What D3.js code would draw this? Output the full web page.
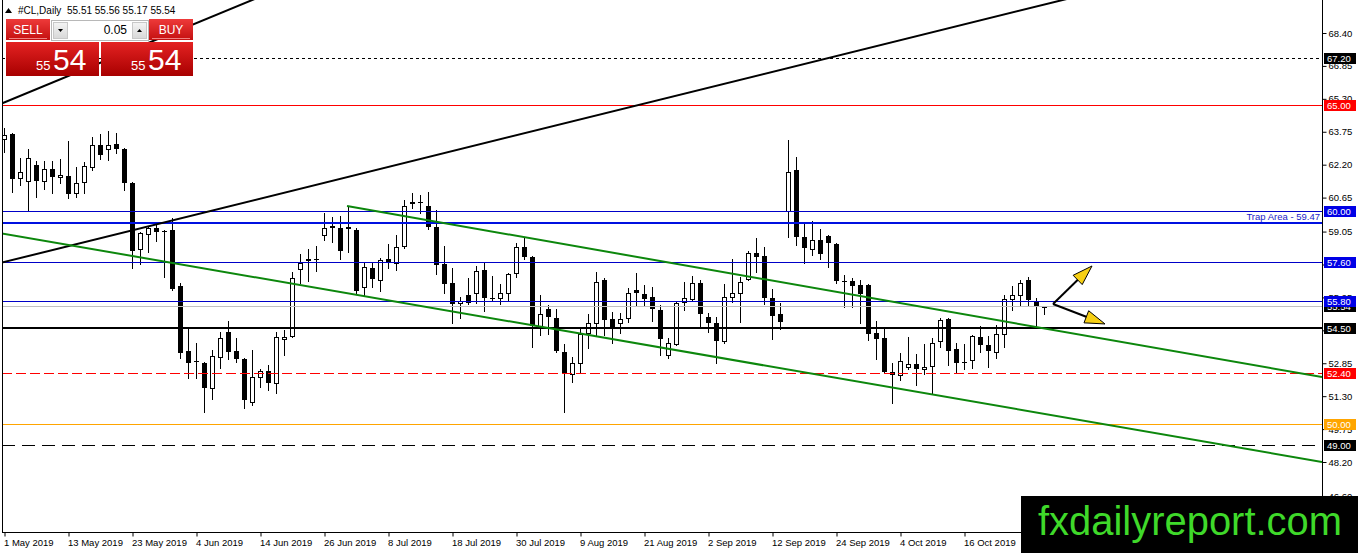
<!DOCTYPE html>
<html>
<head>
<meta charset="utf-8">
<script src="https://cdn.jsdelivr.net/npm/d3@7/dist/d3.min.js"></script>
<style>
  body { margin: 0; background: #fff; }
  svg { display: block; font-family: "Liberation Sans", Arial, sans-serif; }
</style>
</head>
<body>
<svg id="chart" width="1362" height="553"></svg>
<script>
// daily bars, 1 May 2019 .. 30 Oct 2019 (weekdays)
const opens = [63.40,63.64,61.57,61.43,62.19,61.43,62.00,61.62,61.67,60.87,
  61.38,62.09,63.13,62.94,63.17,62.94,61.34,58.23,58.94,59.22,
  59.10,59.13,56.49,53.43,52.95,52.86,51.69,53.15,54.32,53.43,
  53.05,51.03,52.20,52.49,51.92,54.00,54.13,57.29,57.72,57.78,
  58.89,59.25,59.22,59.27,59.13,56.44,57.34,56.77,57.76,57.57,
  58.37,60.38,60.42,60.26,59.27,57.52,56.63,55.70,56.06,56.16,
  57.24,55.90,55.92,56.16,57.10,58.32,57.85,54.56,55.41,54.98,
  53.38,52.35,52.86,54.28,54.75,56.77,54.93,54.75,54.98,56.30,
  56.11,55.97,55.36,53.24,53.76,55.74,55.88,56.63,55.03,54.75,
  53.90,55.97,56.16,56.82,58.04,57.90,55.92,55.17,60.02,61.95,
  58.80,58.23,58.65,58.84,58.47,56.70,56.72,56.54,56.54,54.28,
  54.04,52.44,52.30,52.67,52.82,52.58,52.72,53.90,54.93,53.52,
  52.90,53.00,54.09,53.71,53.38,54.23,55.88,56.06,56.77,55.78,
  55.51];
const highs = [63.95,63.70,62.50,62.94,62.37,62.37,62.37,62.47,63.32,62.09,
  62.33,63.50,63.64,63.79,63.69,62.99,61.38,59.03,59.31,59.50,
  59.13,59.69,56.63,54.56,53.80,52.90,53.48,54.32,54.84,54.04,
  53.10,53.48,52.58,52.77,54.32,54.42,57.15,58.00,58.23,58.37,
  59.93,59.74,59.78,60.21,59.20,57.57,57.57,57.81,58.47,58.89,
  60.54,60.87,60.77,60.91,60.07,58.37,57.34,55.97,56.87,57.43,
  57.57,56.96,56.58,57.10,58.51,58.75,57.90,56.06,55.60,55.41,
  53.76,53.15,54.46,55.17,57.15,56.87,55.27,55.22,56.39,57.10,
  56.53,56.44,55.60,54.04,55.74,56.68,56.96,56.77,55.22,55.03,
  56.58,57.76,56.91,58.14,58.75,58.32,56.35,55.69,63.36,62.56,
  59.41,59.55,59.17,58.90,58.51,57.01,56.87,56.77,56.60,54.84,
  54.46,52.86,53.33,54.09,53.29,53.76,54.04,54.98,54.98,53.80,
  53.76,54.18,54.60,54.13,54.65,56.06,56.49,56.77,56.91,55.92,
  55.56];
const lows = [62.80,60.91,61.24,60.07,60.68,61.06,60.87,61.34,60.63,60.68,
  60.87,61.95,62.47,62.42,62.75,61.01,57.34,57.52,58.09,58.61,
  56.91,56.30,53.10,52.16,52.16,50.56,51.17,52.63,53.05,52.91,
  50.74,50.89,51.73,51.59,51.45,53.24,54.10,56.63,56.72,57.20,
  58.65,58.56,57.76,58.09,56.16,56.06,56.44,56.26,57.34,57.24,
  58.30,60.16,59.93,59.17,57.05,56.16,54.75,54.98,55.64,55.69,
  55.31,55.83,55.64,55.83,56.91,57.76,53.62,54.18,54.23,53.38,
  50.56,51.97,52.39,53.57,54.18,54.18,53.80,54.28,54.80,55.55,
  55.55,54.84,53.24,53.10,53.71,55.36,55.78,54.56,54.32,52.86,
  53.80,55.74,54.80,56.77,57.15,55.64,53.99,54.46,58.80,58.42,
  57.57,57.95,57.76,57.38,56.63,55.50,55.50,54.75,53.95,53.05,
  52.39,50.98,52.06,52.58,51.83,52.35,51.40,53.62,52.77,52.39,
  52.58,52.63,53.38,52.67,53.10,53.62,55.36,55.55,55.55,54.56,
  55.17];
const closes = [63.62,61.53,61.86,62.51,61.43,62.00,61.62,61.71,60.82,61.34,
  62.14,63.13,62.66,63.13,62.94,61.34,58.14,58.98,59.22,59.03,
  59.05,56.35,53.33,52.86,52.91,51.69,53.19,54.04,53.38,53.05,
  51.12,52.20,52.49,51.92,54.09,54.09,56.86,57.57,57.78,57.76,
  59.22,59.29,58.14,59.17,56.26,57.38,56.82,57.71,57.57,58.32,
  60.26,60.42,60.38,59.27,57.48,56.58,55.64,55.76,55.69,57.20,
  55.92,55.94,56.16,57.05,58.32,57.85,54.61,55.17,55.03,53.43,
  52.35,52.86,54.23,54.75,56.68,54.89,54.56,54.93,56.16,56.16,
  55.88,55.41,53.99,53.80,55.69,55.92,56.63,55.17,54.75,53.90,
  55.97,56.16,56.68,58.04,57.85,55.92,55.08,54.79,61.86,58.80,
  58.28,58.65,58.00,58.51,56.72,56.66,56.49,56.11,54.23,54.00,
  52.44,52.30,52.96,52.82,52.58,52.67,53.80,54.89,53.43,52.86,
  52.93,54.13,53.71,53.43,54.23,55.88,56.06,56.63,55.83,55.50,
  55.54];

// time axis labels every 8 bars
const dateTickBars = [0,8,16,24,32,40,48,56,64,72,80,88,96,104,112,120];
const dateTickLabels = ["1 May 2019","13 May 2019","23 May 2019","4 Jun 2019","14 Jun 2019",
  "26 Jun 2019","8 Jul 2019","18 Jul 2019","30 Jul 2019","9 Aug 2019","21 Aug 2019",
  "2 Sep 2019","12 Sep 2019","24 Sep 2019","4 Oct 2019","16 Oct 2019"];

// price scale labels
const priceTicks = [68.40,66.85,65.30,63.75,62.20,60.65,59.05,57.50,55.95,54.40,
  52.85,51.30,49.75,48.20,46.60];

// horizontal levels (bid line 55.54 included)
const levelPrices = [67.20,65.00,60.00,59.47,57.60,55.54,55.80,54.50,52.40,50.00,49.00];

// trend lines as [bar, price] pairs
const blackLineLong = [[-1.125,57.51],[134.875,70.19]];
const blackLineSteep = [[-1.125,64.95],[32.55,70.19]];
const greenLineUpper = [[42.875,60.25],[164.75,52.20]];
const greenLineLower = [[-1.125,59.02],[164.75,48.20]];

// arrows from one start point
const arrowStart = [131.125,55.64];
const arrowTips = [[136.0,57.43],[137.625,54.70]];

const trapLabel = "Trap Area - 59.47";
const symbol = "#CL,Daily";
const watermark = "fxdailyreport.com";

// styling of each level, same order as levelPrices
const levelStyles = [
  {stroke:"#000000", w:1, dash:"3,3", box:"#000000"},
  {stroke:"#ff0000", w:1, dash:null, box:"#ff0000"},
  {stroke:"#0000c8", w:1, dash:null, box:"#0000e6"},
  {stroke:"#0010e0", w:2.5, dash:null, box:null},
  {stroke:"#0000c8", w:1, dash:null, box:"#0000e6"},
  {stroke:"#c0c0c0", w:1, dash:null, box:"#000000"},
  {stroke:"#0000c8", w:1, dash:null, box:"#0000e6"},
  {stroke:"#000000", w:2, dash:null, box:"#000000"},
  {stroke:"#ff0000", w:1, dash:"10,4", box:"#ff0000"},
  {stroke:"#ffa500", w:1, dash:null, box:"#ffa500"},
  {stroke:"#000000", w:1, dash:"13,7", box:"#000000"}
];

const plot = {left: 2, right: 1322, top: 0, bottom: 532};
const svg = d3.select("#chart");

const x = d3.scaleLinear().domain([-0.25, 164.75]).range([plot.left, plot.right]);
const y = d3.scaleLinear().domain([69.954, 44.904]).range([plot.top, plot.bottom]);

const defs = svg.append("defs");
defs.append("clipPath").attr("id", "plotClip")
  .append("rect")
  .attr("x", plot.left).attr("y", plot.top)
  .attr("width", plot.right - plot.left).attr("height", plot.bottom - plot.top);

function grad(id, top, bottom) {
  const g = defs.append("linearGradient").attr("id", id)
    .attr("x1", 0).attr("y1", 0).attr("x2", 0).attr("y2", 1);
  g.append("stop").attr("offset", "0%").attr("stop-color", top);
  g.append("stop").attr("offset", "100%").attr("stop-color", bottom);
}
grad("btnRed", "#ee3a3a", "#c41010");
grad("boxRed", "#e42222", "#a80000");
grad("spinBtn", "#f4f4f4", "#d8d8d8");

svg.append("rect").attr("width", 1362).attr("height", 553).attr("fill", "#fff");

const plotG = svg.append("g").attr("clip-path", "url(#plotClip)");

// candles
const bars = opens.map((o, i) => ({i, o, h: highs[i], l: lows[i], c: closes[i]}));

const candle = plotG.append("g").attr("shape-rendering", "crispEdges")
  .selectAll("g").data(bars).join("g");

candle.append("line")
  .attr("x1", d => Math.round(x(d.i)) + 0.5)
  .attr("x2", d => Math.round(x(d.i)) + 0.5)
  .attr("y1", d => Math.round(y(d.h)))
  .attr("y2", d => Math.round(y(d.l)) + 1)
  .attr("stroke", "#000");

candle.append("rect")
  .attr("x", d => d.c >= d.o ? Math.round(x(d.i)) - 1.5 : Math.round(x(d.i)) - 2)
  .attr("width", d => d.c >= d.o ? 4 : 5)
  .attr("y", d => {
    const t = Math.round(y(Math.max(d.o, d.c)));
    return d.c >= d.o ? t + 0.5 : t;
  })
  .attr("height", d => {
    const h = Math.round(y(Math.min(d.o, d.c))) - Math.round(y(Math.max(d.o, d.c)));
    return d.c >= d.o ? Math.max(h, 0.01) : Math.max(h, 1);
  })
  .attr("fill", d => d.c >= d.o ? "#fff" : "#000")
  .attr("stroke", d => d.c >= d.o ? "#000" : "none");

// horizontal levels
const lineY = (p, w) => Math.round(y(p)) + (w % 2 === 1 ? 0.5 : 0);
plotG.append("g").attr("shape-rendering", "crispEdges")
  .selectAll("line").data(levelPrices).join("line")
  .attr("x1", plot.left).attr("x2", plot.right)
  .attr("y1", (d, i) => lineY(d, levelStyles[i].w))
  .attr("y2", (d, i) => lineY(d, levelStyles[i].w))
  .attr("stroke", (d, i) => levelStyles[i].stroke)
  .attr("stroke-width", (d, i) => levelStyles[i].w)
  .attr("stroke-dasharray", (d, i) => levelStyles[i].dash);

// trend lines
const line = d3.line().x(d => x(d[0])).y(d => y(d[1]));
[[blackLineLong, "#000"], [blackLineSteep, "#000"],
 [greenLineUpper, "#0c870c"], [greenLineLower, "#0c870c"]].forEach(([pts, col]) => {
  plotG.append("path").attr("d", line(pts))
    .attr("fill", "none").attr("stroke", col).attr("stroke-width", 2);
});

// trap area text
plotG.append("text")
  .attr("x", plot.right - 2).attr("y", y(59.47) - 2.5)
  .attr("text-anchor", "end").attr("font-size", 9.5).attr("fill", "#1c1cc8")
  .text(trapLabel);

// arrows
const sx = x(arrowStart[0]), sy = y(arrowStart[1]);
arrowTips.forEach(tip => {
  const tx = x(tip[0]), ty = y(tip[1]);
  const dx = tx - sx, dy = ty - sy, len = Math.hypot(dx, dy);
  const ux = dx / len, uy = dy / len, nx = -uy, ny = ux;
  const hl = 20, hw = 6.5;
  const bx = tx - ux * hl, by = ty - uy * hl;
  plotG.append("line")
    .attr("x1", sx).attr("y1", sy).attr("x2", bx + ux * 2).attr("y2", by + uy * 2)
    .attr("stroke", "#000").attr("stroke-width", 2);
  plotG.append("polygon")
    .attr("points", [[tx, ty], [bx + nx * hw, by + ny * hw], [bx - nx * hw, by - ny * hw]].join(" "))
    .attr("fill", "#f6cf14").attr("stroke", "#000").attr("stroke-width", 1);
});

// frame and axes
svg.append("line").attr("x1", plot.left + 0.5).attr("x2", plot.left + 0.5)
  .attr("y1", 0).attr("y2", plot.bottom).attr("stroke", "#000");
svg.append("line").attr("x1", plot.right + 0.5).attr("x2", plot.right + 0.5)
  .attr("y1", 0).attr("y2", plot.bottom + 1).attr("stroke", "#000");
svg.append("line").attr("x1", plot.left).attr("x2", plot.right + 1)
  .attr("y1", plot.bottom + 0.5).attr("y2", plot.bottom + 0.5).attr("stroke", "#000");

const yAxis = d3.axisRight(y).tickValues(priceTicks).tickFormat(d3.format(".2f"))
  .tickSize(4).tickSizeOuter(0).tickPadding(2);
const yg = svg.append("g").attr("transform", `translate(${plot.right + 0.5},0)`).call(yAxis);
yg.select(".domain").remove();
yg.selectAll("text").attr("font-size", 9.5).attr("fill", "#000")
  .attr("font-family", "Liberation Sans, Arial, sans-serif");
yg.selectAll("line").attr("stroke", "#000");

const xAxis = d3.axisBottom(x).tickValues(dateTickBars)
  .tickFormat((d, i) => dateTickLabels[i]).tickSize(4).tickSizeOuter(0).tickPadding(3);
const xg = svg.append("g").attr("transform", `translate(0.5,${plot.bottom + 0.5})`).call(xAxis);
xg.select(".domain").remove();
xg.selectAll("text").attr("font-size", 9.5).attr("fill", "#000").attr("text-anchor", "start")
  .attr("dx", -1).attr("font-family", "Liberation Sans, Arial, sans-serif");
xg.selectAll("line").attr("stroke", "#000");

// level price boxes on the scale
const boxG = svg.append("g");
levelPrices.forEach((p, i) => {
  const st = levelStyles[i];
  if (!st.box) return;
  const cy = Math.round(y(p));
  boxG.append("rect").attr("x", plot.right + 2).attr("y", cy - 5)
    .attr("width", 32).attr("height", 11).attr("fill", st.box);
  boxG.append("text").attr("x", plot.right + 5).attr("y", cy + 4)
    .attr("font-size", 9.5).attr("fill", "#fff").text(p.toFixed(2));
});

// header
const last = bars[bars.length - 1];
svg.append("path").attr("d", "M5,13 L8.5,8 L12,13 Z").attr("fill", "#000");
svg.append("text").attr("x", 18).attr("y", 14).attr("font-size", 10).text(symbol);
svg.append("text").attr("x", 67).attr("y", 14).attr("font-size", 10)
  .text([last.o, last.h, last.l, last.c].map(v => v.toFixed(2)).join(" "));

// one-click trading panel
const panel = svg.append("g");
const priceStr = last.c.toFixed(2);
const big = priceStr.split(".")[1], small = priceStr.split(".")[0];
panel.append("rect").attr("x", 6).attr("y", 19).attr("width", 44).attr("height", 21).attr("fill", "url(#btnRed)");
panel.append("rect").attr("x", 149).attr("y", 19).attr("width", 44).attr("height", 21).attr("fill", "url(#btnRed)");
panel.append("line").attr("x1", 9).attr("x2", 47).attr("y1", 38.5).attr("y2", 38.5).attr("stroke", "#f08080");
panel.append("line").attr("x1", 152).attr("x2", 190).attr("y1", 38.5).attr("y2", 38.5).attr("stroke", "#f08080");
panel.append("text").attr("x", 28).attr("y", 34).attr("text-anchor", "middle")
  .attr("font-size", 12).attr("fill", "#fff").text("SELL");
panel.append("text").attr("x", 171).attr("y", 34).attr("text-anchor", "middle")
  .attr("font-size", 12).attr("fill", "#fff").text("BUY");
panel.append("rect").attr("x", 51.5).attr("y", 20.5).attr("width", 97).attr("height", 20)
  .attr("fill", "#fff").attr("stroke", "#b8b8b8");
panel.append("rect").attr("x", 53.5).attr("y", 22.5).attr("width", 14).attr("height", 16)
  .attr("fill", "url(#spinBtn)").attr("stroke", "#c8c8c8");
panel.append("rect").attr("x", 132.5).attr("y", 22.5).attr("width", 14).attr("height", 16)
  .attr("fill", "url(#spinBtn)").attr("stroke", "#c8c8c8");
panel.append("path").attr("d", "M58,29 L63,29 L60.5,32 Z").attr("fill", "#000");
panel.append("path").attr("d", "M137,32 L142,32 L139.5,29 Z").attr("fill", "#000");
panel.append("text").attr("x", 127).attr("y", 34).attr("text-anchor", "end")
  .attr("font-size", 12).attr("fill", "#000").text("0.05");
[[6, 93], [101, 92]].forEach(([bx, bw]) => {
  panel.append("rect").attr("x", bx).attr("y", 42).attr("width", bw).attr("height", 34)
    .attr("fill", "url(#boxRed)");
  panel.append("text").attr("x", bx + 30).attr("y", 70).attr("font-size", 13)
    .attr("fill", "#fff").text(small);
  panel.append("text").attr("x", bx + 47).attr("y", 70).attr("font-size", 30)
    .attr("fill", "#fff").text(big);
});

// watermark
svg.append("rect").attr("x", 1021).attr("y", 496).attr("width", 337).attr("height", 57).attr("fill", "#000");
svg.append("text").attr("x", 1038).attr("y", 535).attr("font-size", 40)
  .attr("textLength", 304).attr("lengthAdjust", "spacingAndGlyphs")
  .attr("fill", "#3fd92a").text(watermark);
</script>
</body>
</html>
